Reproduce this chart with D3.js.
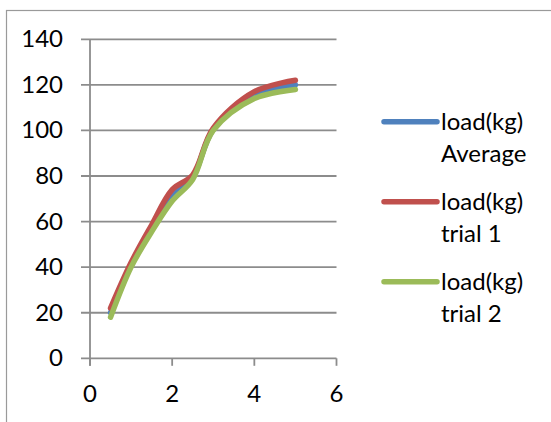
<!DOCTYPE html>
<html>
<head>
<meta charset="utf-8">
<script src="https://cdn.jsdelivr.net/npm/d3@7"></script>
<style>
  html, body { margin: 0; padding: 0; background: #fff; }
  svg { display: block; }
  text { font-family: Lato, "Open Sans", sans-serif; fill: #000; }
</style>
</head>
<body>
<svg id="chart" width="551" height="422"></svg>
<script>
// Measurement points (x) and load readings (kg)
const xValues      = [0.5, 1, 1.5, 2, 2.5, 3, 4, 5];
const loadAverage  = [20, 41, 57, 71.5, 79.5, 100.5, 115.5, 120];
const loadTrial1   = [22, 42, 58.5, 74, 80.5, 101, 117, 122];
const loadTrial2   = [18, 40, 55.5, 69, 78.5, 100, 114, 118];

const seriesNames  = ["load(kg) Average", "load(kg) trial 1", "load(kg) trial 2"];
const seriesColors = ["#4F81BD", "#C0504D", "#9BBB59"];
const xTicks = [0, 2, 4, 6];
const yTicks = [0, 20, 40, 60, 80, 100, 120, 140];

const series = [loadAverage, loadTrial1, loadTrial2].map((vals, i) => ({
  name: seriesNames[i],
  color: seriesColors[i],
  points: xValues.map((x, j) => ({ x, y: vals[j] }))
}));

const svg = d3.select("#chart");
const gridColor = "#8c8c8c";
const fontSize = 24;

// outer chart frame
svg.append("rect")
  .attr("x", 6.5).attr("y", 10.5)
  .attr("width", 600).attr("height", 500)
  .attr("fill", "none").attr("stroke", "#9a9a9a").attr("stroke-width", 1.2);

const x = d3.scaleLinear().domain([0, 6]).range([90, 336.5]);
const y = d3.scaleLinear().domain([0, 140]).range([358.3, 39.3]);

// horizontal gridlines with left tick stubs
svg.append("g").selectAll("line").data(yTicks).join("line")
  .attr("x1", 81).attr("x2", x(6))
  .attr("y1", d => y(d)).attr("y2", d => y(d))
  .attr("stroke", gridColor).attr("stroke-width", 1.8);

// vertical axis
svg.append("line")
  .attr("x1", x(0)).attr("x2", x(0))
  .attr("y1", y(140)).attr("y2", y(0) + 7.5)
  .attr("stroke", gridColor).attr("stroke-width", 1.8);

// x tick marks
svg.append("g").selectAll("line").data(xTicks).join("line")
  .attr("x1", d => x(d)).attr("x2", d => x(d))
  .attr("y1", y(0)).attr("y2", y(0) + 7.5)
  .attr("stroke", gridColor).attr("stroke-width", 1.8);

// y tick labels
svg.append("g").selectAll("text").data(yTicks).join("text")
  .attr("x", 63).attr("y", d => y(d) + 8)
  .attr("text-anchor", "end")
  .attr("font-size", fontSize)
  .text(d => d);

// x tick labels
svg.append("g").selectAll("text").data(xTicks).join("text")
  .attr("x", d => x(d)).attr("y", 401.5)
  .attr("text-anchor", "middle")
  .attr("font-size", fontSize)
  .text(d => d);

// smoothed series lines
const line = d3.line()
  .x(d => x(d.x)).y(d => y(d.y))
  .curve(d3.curveCatmullRom.alpha(0.5));

svg.append("g").selectAll("path").data(series).join("path")
  .attr("d", d => line(d.points))
  .attr("fill", "none")
  .attr("stroke", d => d.color)
  .attr("stroke-width", 5.5)
  .attr("stroke-linecap", "round")
  .attr("stroke-linejoin", "round");

// legend
const legend = svg.append("g").selectAll("g").data(series).join("g")
  .attr("transform", (d, i) => `translate(0, ${121.7 + i * 80})`);

legend.append("line")
  .attr("x1", 384).attr("x2", 437)
  .attr("y1", 0).attr("y2", 0)
  .attr("stroke", d => d.color)
  .attr("stroke-width", 5.5)
  .attr("stroke-linecap", "round");

legend.append("text")
  .attr("x", 441).attr("y", 8.5)
  .attr("font-size", fontSize)
  .text(d => d.name.split(" ")[0]);

legend.append("text")
  .attr("x", 441).attr("y", 40)
  .attr("font-size", fontSize)
  .text(d => d.name.split(" ").slice(1).join(" "));
</script>
</body>
</html>
